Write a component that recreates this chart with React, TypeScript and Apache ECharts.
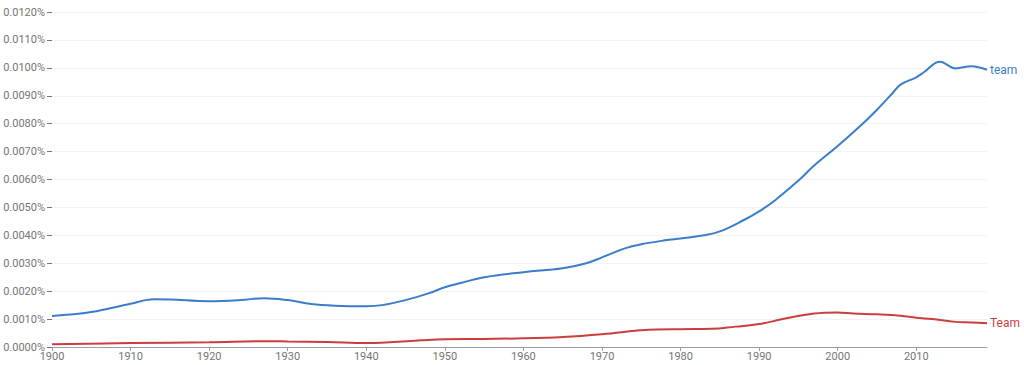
import React, { useEffect, useRef } from "react";
import * as echarts from "echarts";

const teamYears = [1900, 1905, 1910, 1913, 1915, 1920, 1924, 1927, 1930, 1933, 1936, 1940, 1942, 1945, 1948, 1950, 1952, 1955, 1960, 1965, 1968, 1970, 1973, 1975, 1978, 1980, 1983, 1985, 1988, 1990, 1992, 1995, 1997, 2000, 2003, 2005, 2007, 2008, 2010, 2011, 2013, 2015, 2017, 2019];
const teamValues = [0.00111, 0.00125, 0.00155, 0.00171, 0.0017, 0.00164, 0.00168, 0.00175, 0.00168, 0.00154, 0.00148, 0.00146, 0.0015, 0.00168, 0.00193, 0.00214, 0.00229, 0.0025, 0.00268, 0.00282, 0.003, 0.00321, 0.00354, 0.00368, 0.00382, 0.00389, 0.004, 0.00414, 0.00454, 0.00486, 0.00525, 0.00596, 0.0065, 0.0072, 0.00795, 0.0085, 0.0091, 0.0094, 0.00966, 0.00985, 0.01022, 0.00998, 0.01006, 0.00993];

const TeamYears = [1900, 1910, 1920, 1927, 1930, 1935, 1940, 1943, 1947, 1950, 1955, 1960, 1965, 1970, 1975, 1977, 1980, 1984, 1987, 1990, 1993, 1997, 2000, 2002, 2005, 2008, 2010, 2012, 2015, 2017, 2019];
const TeamValues = [0.0001, 0.00014, 0.00017, 0.00021, 0.0002, 0.00018, 0.00014, 0.00017, 0.00024, 0.00028, 0.00029, 0.00031, 0.00036, 0.00046, 0.0006, 0.00063, 0.00064, 0.00065, 0.00073, 0.00082, 0.001, 0.0012, 0.00124, 0.0012, 0.00117, 0.00112, 0.00105, 0.001, 0.0009, 0.00088, 0.00085];

const yTicks = [0, 0.001, 0.002, 0.003, 0.004, 0.005, 0.006, 0.007, 0.008, 0.009, 0.01, 0.011, 0.012];
const xTicks = [1900, 1910, 1920, 1930, 1940, 1950, 1960, 1970, 1980, 1990, 2000, 2010];

const BLUE = "#3b7dcb";
const RED = "#cc3d3d";
const GRAY = "#757575";

export default function App() {
  const ref = useRef<HTMLDivElement>(null);
  useEffect(() => {
    document.body.style.margin = "0";
    const chart = echarts.init(ref.current!, undefined, { renderer: "svg" });
    chart.setOption({
      animation: false,
      grid: { left: 52, right: 37, top: 12, bottom: 18, containLabel: false },
      xAxis: {
        type: "value",
        min: 1900,
        max: 2019,
        axisLine: { show: true, lineStyle: { color: "#9e9e9e", width: 1 } },
        axisTick: { show: true, customValues: xTicks, length: 4, lineStyle: { color: "#9e9e9e" } },
        axisLabel: {
          customValues: xTicks,
          color: GRAY,
          fontSize: 11,
          fontFamily: "Roboto",
          margin: 4,
          formatter: (v: number) => String(v),
        },
        splitLine: { show: false },
      },
      yAxis: {
        type: "value",
        min: 0,
        max: 0.012,
        interval: 0.001,
        axisLine: { show: false },
        axisTick: { show: true, length: 5, lineStyle: { color: GRAY } },
        axisLabel: {
          customValues: yTicks,
          color: GRAY,
          fontSize: 11,
          fontFamily: "Roboto",
          margin: 7,
          formatter: (v: number) => v.toFixed(4) + "%",
        },
        splitLine: { show: true, lineStyle: { color: "#f2f2f2", width: 1 } },
      },
      series: [
        {
          name: "team",
          type: "line",
          smooth: 0.4,
          showSymbol: false,
          data: teamYears.map((y, i) => [y, teamValues[i]]),
          lineStyle: { color: BLUE, width: 2 },
          itemStyle: { color: BLUE },
          endLabel: { show: true, formatter: "{a}", color: BLUE, fontSize: 12, fontFamily: "Roboto", distance: 3 },
        },
        {
          name: "Team",
          type: "line",
          smooth: 0.4,
          showSymbol: false,
          data: TeamYears.map((y, i) => [y, TeamValues[i]]),
          lineStyle: { color: RED, width: 2 },
          itemStyle: { color: RED },
          endLabel: { show: true, formatter: "{a}", color: RED, fontSize: 12, fontFamily: "Roboto", distance: 3 },
        },
      ],
    });
    return () => chart.dispose();
  }, []);
  return <div ref={ref} style={{ width: 1024, height: 365 }} />;
}
